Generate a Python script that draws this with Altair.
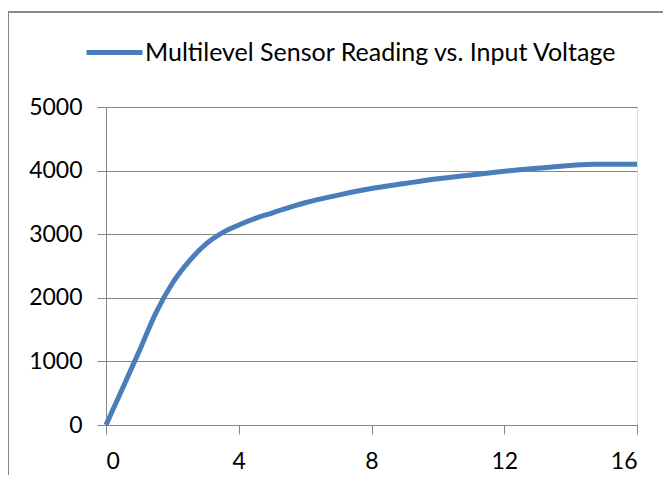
import altair as alt
import pandas as pd

voltage = [0, 0.5, 1, 1.5, 2, 2.5, 3, 3.5, 4, 4.5, 5, 6, 7, 8, 9, 10, 11, 12, 13, 14, 14.7, 16]
reading = [0, 579, 1160, 1760, 2229, 2573, 2840, 3020, 3145, 3250, 3333, 3495, 3615, 3718, 3796, 3872, 3931, 3990, 4036, 4080, 4100, 4098]
series_name = "Multilevel Sensor Reading vs. Input Voltage"
x_ticks = [0, 4, 8, 12, 16]
y_ticks = [0, 1000, 2000, 3000, 4000, 5000]

df = pd.DataFrame({"V": voltage, "R": reading, "s": [series_name] * len(voltage)})

FONT = "Lato"
GRAY = "#868686"

line = alt.Chart(df).mark_line(strokeWidth=5, interpolate="monotone").encode(
    x=alt.X("V:Q", scale=alt.Scale(domain=[0, 16], nice=False),
            axis=alt.Axis(values=x_ticks, title=None, grid=False, tickSize=9,
                          labelPadding=16, labelFontSize=23, labelFont=FONT,
                          labelColor="#000000", domainColor=GRAY, tickColor=GRAY)),
    y=alt.Y("R:Q", scale=alt.Scale(domain=[0, 5000], nice=False),
            axis=alt.Axis(values=y_ticks, title=None, grid=True, gridColor=GRAY,
                          format="d", tickSize=9, labelPadding=15, labelFontSize=23,
                          labelFont=FONT, labelColor="#000000", domainColor=GRAY,
                          tickColor=GRAY)),
    color=alt.Color("s:N", scale=alt.Scale(range=["#4A7EBB"]),
                    legend=alt.Legend(title=None, orient="none", legendX=-22, legendY=-85,
                                      symbolType="stroke", symbolSize=3136,
                                      symbolStrokeWidth=5, labelFontSize=25,
                                      labelFont=FONT, labelColor="#000000",
                                      labelLimit=1000, padding=0, labelOffset=0)),
)

frame = alt.Chart(df).mark_rect(fill="transparent", stroke="#888888", strokeWidth=2, clip=False).encode(
    x=alt.value(-98), x2=alt.value(800), y=alt.value(-95), y2=alt.value(600)
)

chart = alt.layer(frame, line).properties(
    width=531, height=318,
    autosize=alt.AutoSizeParams(type="none"),
    padding={"left": 98, "top": 99, "right": 26, "bottom": 50},
).configure_view(stroke=None).configure(background="white")

chart.save("out.html", embed_options={"renderer": "svg", "actions": False})
